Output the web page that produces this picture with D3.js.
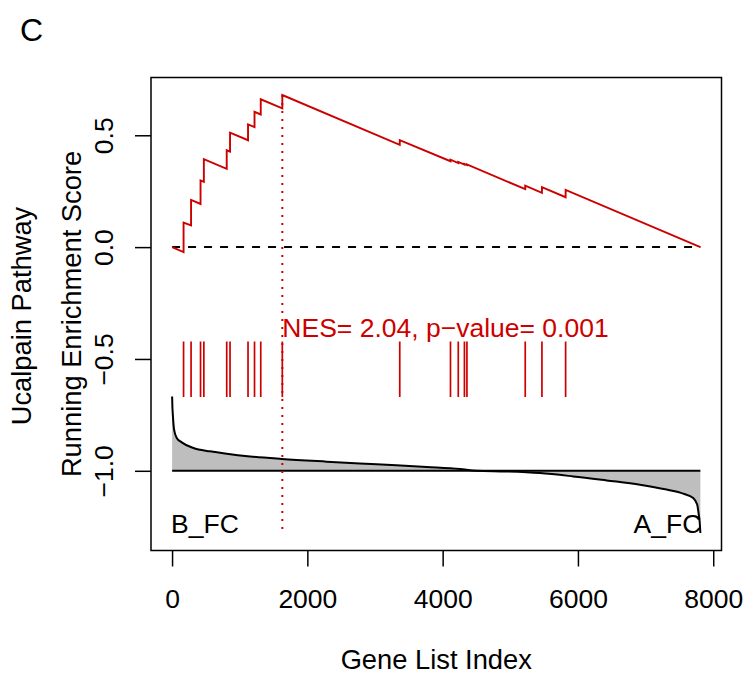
<!DOCTYPE html>
<html>
<head>
<meta charset="utf-8">
<script src="https://cdn.jsdelivr.net/npm/d3@7"></script>
<style>
  body { margin: 0; background: #fff; }
  svg text { font-family: 'Liberation Sans', Arial, Helvetica, sans-serif; }
</style>
</head>
<body>
<div id="chart"></div>
<script>
// gene set hits along the ranked list, and the running ES around each hit
const geneCount = 7810;
const hitIndex = [170, 281, 421, 470, 808, 857, 1123, 1219, 1311, 1630, 3366, 4116, 4231, 4322, 4359, 5221, 5468, 5818];
const esBefore = [-0.022, 0.097, 0.193, 0.292, 0.350, 0.427, 0.478, 0.537, 0.593, 0.620, 0.457, 0.384, 0.376, 0.369, 0.367, 0.259, 0.243, 0.223];
const esAfter = [0.110, 0.211, 0.298, 0.393, 0.433, 0.512, 0.549, 0.605, 0.661, 0.680, 0.478, 0.391, 0.381, 0.372, 0.370, 0.275, 0.268, 0.256];

// ranked list metric, as drawn under the hits (baseline -1)
const metricIndex = [1, 5, 10, 30, 69, 143, 315, 562, 808, 1153, 1621, 2286, 3025, 3764, 4256, 4500, 4946, 5438, 5930, 6424, 6917, 7311, 7556, 7704, 7763, 7783, 7800, 7810];
const metricValue = [-0.668, -0.715, -0.742, -0.816, -0.853, -0.873, -0.898, -0.913, -0.924, -0.936, -0.947, -0.959, -0.971, -0.983, -0.992, -1.0, -1.003, -1.010, -1.025, -1.043, -1.062, -1.084, -1.102, -1.122, -1.151, -1.189, -1.230, -1.278];

const xTicks = [0, 2000, 4000, 6000, 8000];
const yTicks = [-1.0, -0.5, 0.0, 0.5];
const hitBand = [-0.422, -0.670];
const metricBase = -1;
const nesLabel = 'NES= 2.04, p\u2212value= 0.001';
const leftLabel = 'B_FC';
const rightLabel = 'A_FC';

const width = 745;
const height = 678;
const box = { left: 151, top: 77.5, right: 721.5, bottom: 550.5 };
const red = '#CD0000';
const fontSize = 26.5;
const titleSize = 27.3;

// R style axis range: data range plus 4% each side
function pad(ext) {
  const d = (ext[1] - ext[0]) * 0.04;
  return [ext[0] - d, ext[1] + d];
}

const esMax = d3.max(esAfter);
const peakIndex = hitIndex[esAfter.indexOf(esMax)];
const metricMin = d3.min(metricValue);

const x = d3.scaleLinear().domain(pad([1, geneCount])).range([box.left, box.right]);
const y = d3.scaleLinear().domain(pad([metricMin, esMax])).range([box.bottom, box.top]);

const svg = d3.select('#chart').append('svg')
  .attr('width', width)
  .attr('height', height);

// running enrichment score path
let esPoints = [[0, 0]];
hitIndex.forEach((h, i) => {
  esPoints.push([h, esBefore[i]]);
  esPoints.push([h, esAfter[i]]);
});
esPoints.push([geneCount, 0]);

// ranked metric area
const metric = metricIndex.map((m, i) => [m, metricValue[i]]);

svg.append('path')
  .datum(metric)
  .attr('fill', '#BEBEBE')
  .attr('d', d3.area()
    .curve(d3.curveMonotoneX)
    .x(d => x(d[0]))
    .y0(y(metricBase))
    .y1(d => y(d[1])));

svg.append('line')
  .attr('x1', x(1)).attr('x2', x(geneCount))
  .attr('y1', y(metricBase)).attr('y2', y(metricBase))
  .attr('stroke', 'black')
  .attr('stroke-width', 2);

svg.append('path')
  .datum(metric)
  .attr('fill', 'none')
  .attr('stroke', 'black')
  .attr('stroke-width', 2)
  .attr('d', d3.line()
    .curve(d3.curveMonotoneX)
    .x(d => x(d[0]))
    .y(d => y(d[1])));

// zero line
svg.append('line')
  .attr('x1', x(0)).attr('x2', x(geneCount))
  .attr('y1', y(0)).attr('y2', y(0))
  .attr('stroke', 'black')
  .attr('stroke-width', 2)
  .attr('stroke-dasharray', '8,8');

// leading edge marker
svg.append('line')
  .attr('x1', x(peakIndex)).attr('x2', x(peakIndex))
  .attr('y1', y(esMax)).attr('y2', y(metricMin))
  .attr('stroke', red)
  .attr('stroke-width', 2)
  .attr('stroke-dasharray', '2,6');

svg.append('path')
  .datum(esPoints)
  .attr('fill', 'none')
  .attr('stroke', red)
  .attr('stroke-width', 1.9)
  .attr('d', d3.line()
    .x(d => x(d[0]))
    .y(d => y(d[1])));

svg.selectAll('line.hit')
  .data(hitIndex)
  .enter()
  .append('line')
  .attr('class', 'hit')
  .attr('x1', d => x(d)).attr('x2', d => x(d))
  .attr('y1', y(hitBand[0])).attr('y2', y(hitBand[1]))
  .attr('stroke', red)
  .attr('stroke-width', 1.7);

svg.append('text')
  .text(nesLabel)
  .attr('x', x(peakIndex))
  .attr('y', 337)
  .attr('fill', red)
  .attr('font-size', fontSize);

svg.append('text')
  .text(leftLabel)
  .attr('x', x(0) - 1)
  .attr('y', y(metricMin))
  .attr('font-size', fontSize);

svg.append('text')
  .text(rightLabel)
  .attr('x', x(geneCount) + 1)
  .attr('y', y(metricMin))
  .attr('text-anchor', 'end')
  .attr('font-size', fontSize);

// plot box
svg.append('rect')
  .attr('x', box.left).attr('y', box.top)
  .attr('width', box.right - box.left)
  .attr('height', box.bottom - box.top)
  .attr('fill', 'none')
  .attr('stroke', 'black')
  .attr('stroke-width', 1.5);

// axes
const xAxis = svg.append('g')
  .attr('transform', `translate(0,${box.bottom})`)
  .call(d3.axisBottom(x).tickValues(xTicks).tickSize(16).tickFormat(d3.format('d')));
xAxis.select('.domain').remove();
xAxis.selectAll('line').attr('stroke', 'black').attr('stroke-width', 1.5);
xAxis.selectAll('text')
  .attr('y', 57.5)
  .attr('dy', null)
  .attr('fill', 'black')
  .style('font-family', "'Liberation Sans', Arial, sans-serif")
  .attr('font-size', fontSize);

const yAxis = svg.append('g')
  .attr('transform', `translate(${box.left},0)`)
  .call(d3.axisLeft(y).tickValues(yTicks).tickSize(16).tickFormat(d3.format('.1f')));
yAxis.select('.domain').remove();
yAxis.selectAll('line').attr('stroke', 'black').attr('stroke-width', 1.5);
yAxis.selectAll('text')
  .attr('x', null)
  .attr('dy', null)
  .attr('transform', 'translate(-38,0) rotate(-90)')
  .attr('text-anchor', 'middle')
  .attr('fill', 'black')
  .style('font-family', "'Liberation Sans', Arial, sans-serif")
  .attr('font-size', fontSize);

// titles
const midY = (box.top + box.bottom) / 2;
svg.append('text')
  .text('Gene List Index')
  .attr('x', (box.left + box.right) / 2)
  .attr('y', 669)
  .attr('text-anchor', 'middle')
  .attr('font-size', titleSize);

svg.append('text')
  .text('Running Enrichment Score')
  .attr('transform', `translate(81,${midY}) rotate(-90)`)
  .attr('text-anchor', 'middle')
  .attr('font-size', titleSize);

svg.append('text')
  .text('Ucalpain Pathway')
  .attr('transform', `translate(31,${midY + 2}) rotate(-90)`)
  .attr('text-anchor', 'middle')
  .attr('font-size', titleSize);

svg.append('text')
  .text('C')
  .attr('x', 20)
  .attr('y', 41)
  .attr('font-size', 32);
</script>
</body>
</html>
